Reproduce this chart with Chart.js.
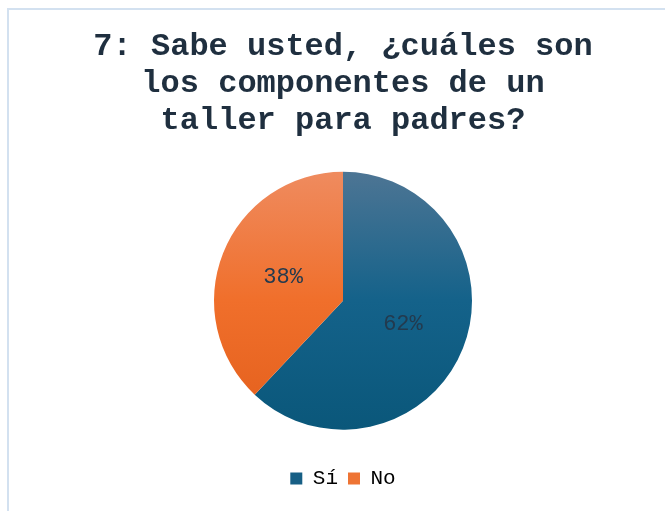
<!DOCTYPE html>
<html>
<head>
<meta charset="utf-8">
<script src="https://cdn.jsdelivr.net/npm/chart.js@4"></script>
<style>
  html, body { margin: 0; padding: 0; background: #ffffff; }
  #wrap { position: relative; width: 665px; height: 511px; overflow: hidden; }
  #frame { position: absolute; left: 7px; top: 8px; width: 700px; height: 560px;
           border-left: 2px solid #d3e1f0; border-top: 2px solid #d3e1f0; }
  canvas { position: absolute; left: 0; top: 0; }
</style>
</head>
<body>
<div id="wrap">
  <div id="frame"></div>
  <canvas id="pieChart" width="665" height="511"></canvas>
</div>
<script>
// data
var categories = ["Sí", "No"];
var values = [62, 38];
var titleLines = ["7: Sabe usted, ¿cuáles son", "los componentes de un", "taller para padres?"];

var gradStops = [
  ["#4d7594", "#14628a", "#0a577a"],
  ["#ef8b5f", "#f06f2b", "#e35f1c"]
];
var legendColors = ["#175f85", "#ee7434"];

function sliceFill(ctx) {
  var chart = ctx.chart;
  var area = chart.chartArea;
  if (!area) return legendColors[ctx.dataIndex];
  var cy = (area.top + area.bottom) / 2;
  var r = 129;
  var g = chart.ctx.createLinearGradient(0, cy - r, 0, cy + r);
  var stops = gradStops[ctx.dataIndex];
  g.addColorStop(0, stops[0]);
  g.addColorStop(0.5, stops[1]);
  g.addColorStop(1, stops[2]);
  return g;
}

var pctLabels = {
  id: "pctLabels",
  afterDatasetsDraw(chart) {
    var ctx = chart.ctx;
    var meta = chart.getDatasetMeta(0);
    var total = values.reduce((a, b) => a + b, 0);
    ctx.save();
    ctx.font = "22px 'Liberation Mono', monospace";
    ctx.fillStyle = "#233a4e";
    ctx.textAlign = "center";
    ctx.textBaseline = "middle";
    meta.data.forEach((arc, i) => {
      var p = arc.tooltipPosition();
      var pct = Math.round(values[i] / total * 100) + "%";
      ctx.fillText(pct, p.x, p.y);
    });
    ctx.restore();
  }
};

new Chart("pieChart", {
  type: "pie",
  data: {
    labels: categories,
    datasets: [{
      data: values,
      backgroundColor: sliceFill,
      borderWidth: 0,
      radius: 129
    }]
  },
  options: {
    responsive: false,
    animation: false,
    layout: { padding: { left: 21, right: 0, top: 0, bottom: 12 } },
    plugins: {
      tooltip: { enabled: false },
      title: {
        display: true,
        text: titleLines,
        color: "#1f2f3f",
        font: { family: "'Liberation Mono', monospace", size: 32, weight: "bold", lineHeight: 1.15 },
        padding: { top: 29, bottom: 4 }
      },
      legend: {
        display: true,
        position: "bottom",
        labels: {
          boxWidth: 12,
          boxHeight: 12,
          padding: 10,
          color: "#3f4a55",
          font: { family: "'Liberation Mono', monospace", size: 21 },
          generateLabels: function (chart) {
            return categories.map((c, i) => ({
              text: c,
              fillStyle: legendColors[i],
              strokeStyle: legendColors[i],
              lineWidth: 0,
              index: i
            }));
          }
        }
      }
    }
  },
  plugins: [pctLabels]
});
</script>
</body>
</html>
